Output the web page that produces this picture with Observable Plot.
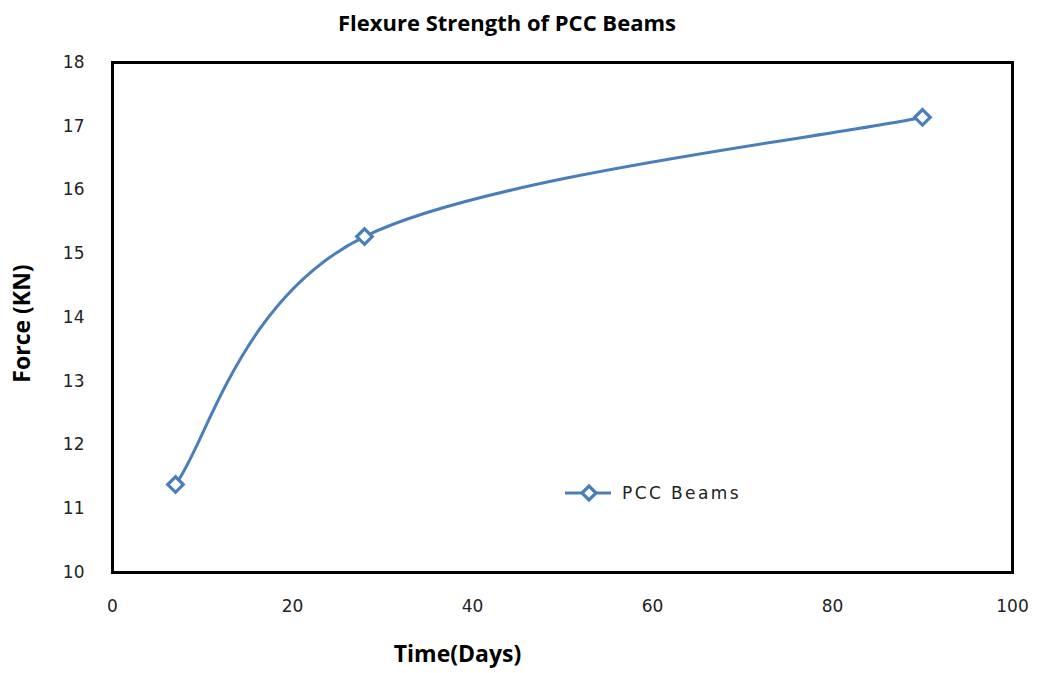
<!DOCTYPE html>
<html>
<head>
<meta charset="utf-8">
<script src="https://cdn.jsdelivr.net/npm/d3@7"></script>
<script src="https://cdn.jsdelivr.net/npm/@observablehq/plot@0.6"></script>
<style>
  body { margin: 0; background: #fff; }
  #wrap { position: relative; width: 1038px; height: 673px; overflow: hidden; }
  #title {
    position: absolute; left: 507px; top: 7px; transform: translateX(-50%);
    font: bold 22px "Open Sans", sans-serif; color: #000; white-space: nowrap;
  }
  #chart { position: absolute; left: 0; top: 50px; }
  #legend {
    position: absolute; left: 562px; top: 481px; display: flex; align-items: center;
    font: 17px "DejaVu Sans", sans-serif; letter-spacing: 2.4px; color: #222;
  }
  #legend svg { margin-right: 8px; }
</style>
</head>
<body>
<div id="wrap">
  <div id="title">Flexure Strength of PCC Beams</div>
  <div id="chart"></div>
  <div id="legend"></div>
</div>
<script>
// Flexural strength of plain cement concrete beams over curing time
const days = [7, 28, 90];
const force = [11.38, 15.27, 17.14];
const xTicks = [0, 20, 40, 60, 80, 100];
const yTicks = [10, 11, 12, 13, 14, 15, 16, 17, 18];
const seriesName = "PCC Beams";
const xLabel = "Time(Days)";
const yLabel = "Force (KN)";

const blue = "#4A7EBB";
const rows = days.map((d, i) => ({day: d, force: force[i]}));

// Smoothed line: cubic Béziers whose tangents follow neighbouring points,
// with end tangents pointing along the first/last chord.
function smoothLine(context) {
  let pts = [];
  return {
    areaStart() {}, areaEnd() {},
    lineStart() { pts = []; },
    point(x, y) { pts.push([+x, +y]); },
    lineEnd() {
      const n = pts.length;
      if (!n) return;
      context.moveTo(pts[0][0], pts[0][1]);
      if (n === 2) { context.lineTo(pts[1][0], pts[1][1]); return; }
      for (let i = 0; i < n - 1; i++) {
        const p0 = pts[Math.max(i - 1, 0)], p1 = pts[i], p2 = pts[i + 1], p3 = pts[Math.min(i + 2, n - 1)];
        context.bezierCurveTo(
          p1[0] + (p2[0] - p0[0]) / 6, p1[1] + (p2[1] - p0[1]) / 6,
          p2[0] - (p3[0] - p1[0]) / 6, p2[1] - (p3[1] - p1[1]) / 6,
          p2[0], p2[1]
        );
      }
    }
  };
}

const chart = Plot.plot({
  width: 1038,
  height: 623,
  marginLeft: 112,
  marginRight: 26,
  marginTop: 12,
  marginBottom: 101,
  style: {background: "#fff", color: "#222"},
  x: {domain: [0, 100], ticks: xTicks, label: null},
  y: {domain: [10, 18], ticks: yTicks, label: null},
  marks: [
    Plot.axisX({ticks: xTicks, tickSize: 0, tickPadding: 27, label: null,
      fontSize: 17, fontFamily: "DejaVu Sans", fill: "#222"}),
    Plot.axisY({ticks: yTicks, tickSize: 0, tickPadding: 28, label: null,
      fontSize: 17, fontFamily: "DejaVu Sans", fill: "#222"}),
    Plot.line(rows, {x: "day", y: "force", stroke: blue, strokeWidth: 3,
      curve: smoothLine}),
    Plot.dot(rows, {x: "day", y: "force", symbol: "diamond2", r: 7,
      stroke: blue, strokeWidth: 3.2, fill: "#fff"}),
    Plot.frame({stroke: "#000", strokeWidth: 3}),
    Plot.text([yLabel], {frameAnchor: "left", textAnchor: "middle", rotate: -90, dx: -90, dy: 6,
      fontSize: 23, fontWeight: "bold", fontFamily: "Open Sans", fill: "#000"}),
    Plot.text([xLabel], {frameAnchor: "bottom", textAnchor: "middle", dx: -105, dy: 89,
      fontSize: 23, fontWeight: "bold", fontFamily: "Open Sans", fill: "#000"})
  ]
});
document.getElementById("chart").appendChild(chart);

// Legend: line segment with a diamond marker, followed by the series name
const legend = document.getElementById("legend");
const ls = d3.create("svg").attr("width", 52).attr("height", 24);
ls.append("line").attr("x1", 3).attr("x2", 49).attr("y1", 12).attr("y2", 12)
  .attr("stroke", blue).attr("stroke-width", 3);
ls.append("path").attr("d", "M27,5L34,12L27,19L20,12Z")
  .attr("fill", "#fff").attr("stroke", blue).attr("stroke-width", 3.2);
legend.appendChild(ls.node());
const lt = document.createElement("span");
lt.textContent = seriesName;
legend.appendChild(lt);
</script>
</body>
</html>
